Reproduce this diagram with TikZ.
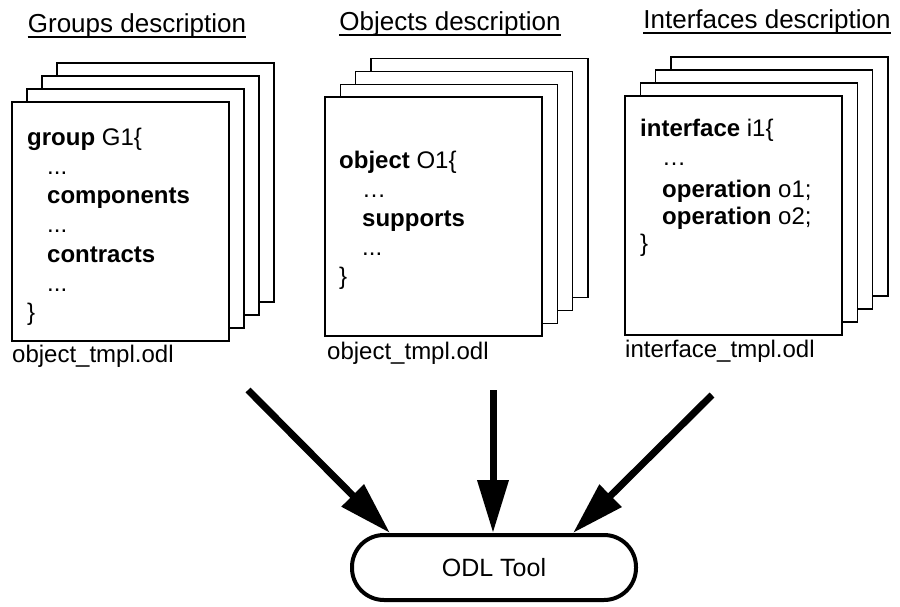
\documentclass[tikz,border=0pt]{standalone}
\usepackage{fontspec}
\setmainfont{Liberation Sans}
\usetikzlibrary{arrows.meta}
\begin{document}
\begin{tikzpicture}[x=1pt,y=-1pt,
  sheet/.style={draw, line width=1.3pt, fill=white, minimum width=217pt,
    minimum height=239pt, inner sep=0pt, outer sep=0pt, anchor=north west},
  code/.style={anchor=base west, inner sep=0pt, font=\fontsize{24}{28}\selectfont},
  fname/.style={anchor=base west, inner sep=0pt, font=\fontsize{24}{28}\selectfont},
  heading/.style={anchor=base, inner sep=0pt, font=\fontsize{26}{30}\selectfont},
  rule/.style={line width=1.5pt},
  flow/.style={line width=7pt, -{Triangle[length=53pt,width=30pt]}},
  tool/.style={draw, line width=4pt, rounded corners=32pt, minimum width=284pt,
    minimum height=65pt, inner sep=0pt, font=\fontsize{25}{30}\selectfont}]
\useasboundingbox (0,0) rectangle (900,607);

% headings, underlined
\node[heading] (hg) at (137,33) {Groups description};
\node[heading] (ho) at (450,31) {Objects description};
\node[heading] (hi) at (767,29) {Interfaces description};
\foreach \h in {hg,ho,hi}
  \draw[rule] ([yshift=-4pt]\h.base west) -- ([yshift=-4pt]\h.base east);

% stacks of sheets, back to front
\foreach \k in {3,2,1,0} {
  \node[sheet] (g\k) at ({12+15*\k},{102-13*\k}) {};
  \node[sheet] (o\k) at ({325+15.3*\k},{97-12.8*\k}) {};
  \node[sheet] (i\k) at ({625+15.3*\k},{96-13*\k}) {};
}

% group template
\node[code] (g1l) at (27,146) {\textbf{group} G1\{};
\node[code] (g2l) at (47,175) {...};
\node[code] (g3l) at (47,204) {\textbf{components}};
\node[code] (g4l) at (47,233) {...};
\node[code] (g5l) at (47,262) {\textbf{contracts}};
\node[code] (g6l) at (47,291) {...};
\node[code] (g7l) at (27,320) {\}};
\node[fname] (gf) at (12,362) {object\_tmpl.odl};

% object template
\node[code] (o1l) at (339,168) {\textbf{object} O1\{};
\node[code] (o2l) at (362,197) {…};
\node[code] (o3l) at (362,226) {\textbf{supports}};
\node[code] (o4l) at (362,255) {...};
\node[code] (o5l) at (339,284) {\}};
\node[fname] (of) at (327,359) {object\_tmpl.odl};

% interface template
\node[code] (i1l) at (640,137) {\textbf{interface} i1\{};
\node[code] (i2l) at (662,166) {…};
\node[code] (i3l) at (662,197) {\textbf{operation} o1;};
\node[code] (i4l) at (662,224) {\textbf{operation} o2;};
\node[code] (i5l) at (640,251) {\}};
\node[fname] (if) at (625,357) {interface\_tmpl.odl};

% tool and inputs
\node[tool] (odl) at (494,567.5) {ODL Tool};
\coordinate (sL) at (248,390);
\coordinate (sM) at (493,390);
\coordinate (sR) at (712,395);
\draw[flow] (sL) -- ([xshift=-104pt]odl.north);
\draw[flow] (sM) -- ([xshift=-1pt]odl.north);
\draw[flow] (sR) -- ([xshift=79pt]odl.north);
\end{tikzpicture}
\end{document}
